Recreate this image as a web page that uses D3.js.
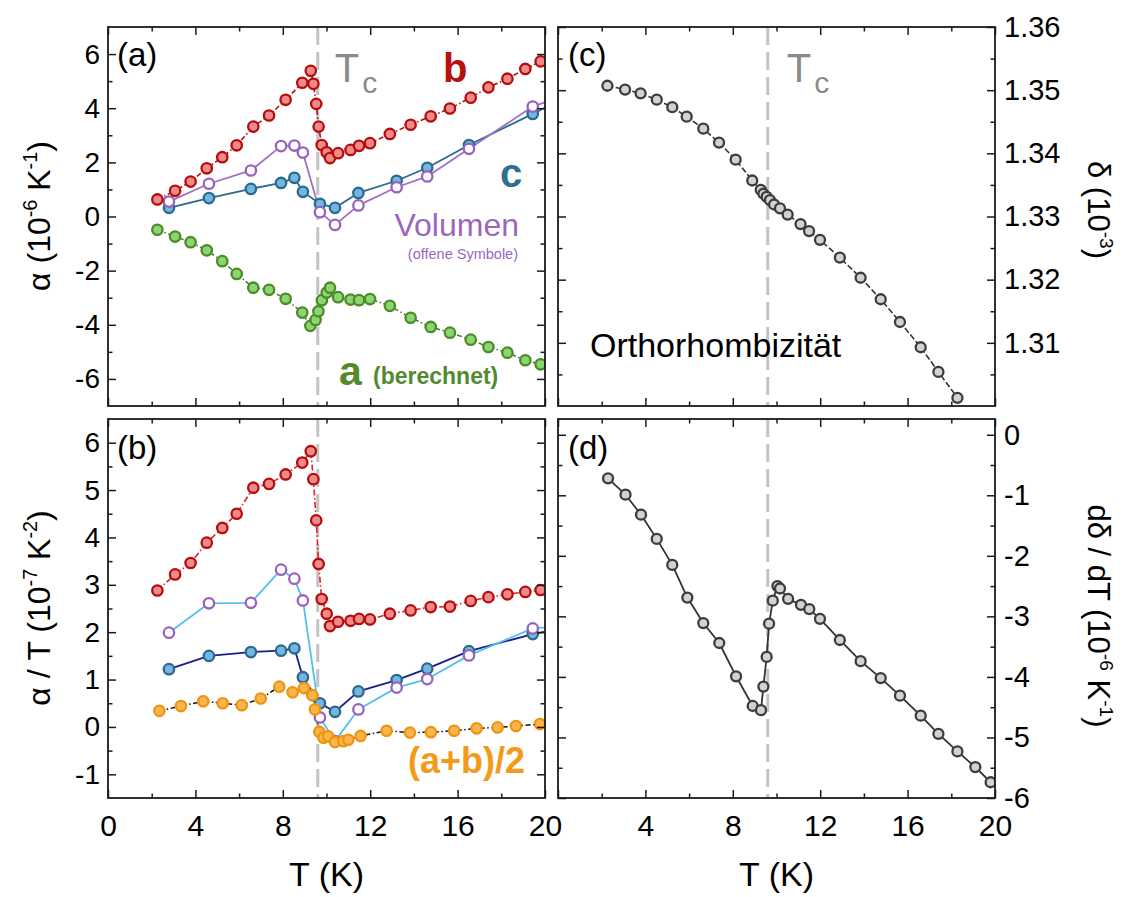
<!DOCTYPE html>
<html><head><meta charset="utf-8">
<script src="https://cdn.jsdelivr.net/npm/d3@7"></script>
<style>
body{margin:0;background:#fff}
svg{display:block}
text{font-family:"Liberation Sans",Arial,Helvetica,sans-serif}
</style>
</head><body>
<svg id="chart" width="1129" height="897"></svg>
<script>
// ---------------- DATA ----------------
const Tc = 9.6;
const xTickVals = [0, 4, 8, 12, 16, 20];
const xMinorVals = [2, 6, 10, 14, 18];

// panel (a): alpha (10^-6 K^-1)
const bT = [2.26,3.07,3.78,4.52,5.23,5.89,6.65,7.37,8.13,8.89,9.28,9.40,9.53,9.64,9.78,10.01,10.16,10.53,11.10,11.49,11.99,12.90,13.85,14.77,15.65,16.60,17.41,18.28,19.10,19.80];
const bAlpha = [0.63,0.95,1.29,1.78,2.19,2.63,3.32,3.73,4.31,4.94,5.38,4.90,4.16,3.32,2.64,2.37,2.16,2.34,2.46,2.61,2.71,3.05,3.39,3.70,3.99,4.39,4.77,5.09,5.45,5.73];
const aT = [2.26,3.07,3.78,4.52,5.23,5.89,6.65,7.37,8.13,8.89,9.26,9.50,9.63,9.79,10.01,10.16,10.53,11.10,11.49,11.99,12.90,13.85,14.77,15.65,16.60,17.41,18.28,19.10,19.80];
const aAlpha = [-0.49,-0.74,-0.95,-1.25,-1.65,-2.12,-2.63,-2.71,-3.04,-3.55,-4.04,-3.82,-3.50,-3.09,-2.81,-2.63,-2.98,-3.07,-3.09,-3.05,-3.30,-3.74,-4.08,-4.29,-4.55,-4.82,-5.03,-5.31,-5.46];
const cT = [2.79,4.62,6.54,7.92,8.53,8.92,9.70,10.39,11.46,13.21,14.61,16.52,19.44,21.2];
const cAlpha = [0.32,0.68,1.02,1.24,1.43,0.91,0.47,0.32,0.87,1.32,1.80,2.64,3.79,4.49];
const volAlpha = [0.55,1.21,1.70,2.60,2.62,2.36,0.16,-0.31,0.41,1.08,1.48,2.50,4.06,4.56];

// panel (b): alpha/T (10^-7 K^-2)
const bAlphaT = [2.88,3.22,3.46,3.89,4.20,4.50,5.05,5.13,5.33,5.58,5.82,5.23,4.36,3.44,2.70,2.39,2.13,2.22,2.24,2.28,2.27,2.39,2.46,2.53,2.54,2.66,2.74,2.80,2.85,2.89];
const cAlphaT = [1.22,1.50,1.58,1.61,1.66,1.05,0.50,0.32,0.75,0.99,1.23,1.60,1.96,2.12];
const volAlphaT = [1.99,2.61,2.62,3.32,3.13,2.67,0.20,-0.30,0.37,0.83,1.01,1.51,2.08,2.15];
const abT = [2.35,3.34,4.36,5.25,6.12,6.99,7.84,8.45,8.97,9.35,9.47,9.67,9.86,10.08,10.39,10.77,11.00,11.56,12.75,13.82,14.78,15.84,16.87,17.83,18.67,19.77];
const abAlphaT = [0.34,0.44,0.54,0.50,0.46,0.60,0.85,0.73,0.82,0.67,0.37,-0.10,-0.23,-0.20,-0.32,-0.30,-0.27,-0.19,-0.08,-0.12,-0.11,-0.08,-0.03,-0.01,0.02,0.06];

// panel (c): orthorhombicity delta (10^-3)
const deltaT = [2.26,3.07,3.78,4.52,5.23,5.89,6.65,7.37,8.13,8.89,9.28,9.40,9.55,9.70,9.89,10.16,10.51,11.10,11.49,11.99,12.90,13.85,14.77,15.65,16.60,17.41,18.28];
const delta = [1.3507,1.3501,1.3495,1.3485,1.3473,1.3458,1.3439,1.3417,1.3390,1.3357,1.3342,1.3336,1.3331,1.3326,1.3319,1.3313,1.3303,1.3288,1.3277,1.3263,1.3235,1.3203,1.3169,1.3133,1.3093,1.3054,1.3013];

// panel (d): d delta / dT (10^-6 K^-1)
const dDeltaT = [2.29,3.09,3.80,4.52,5.23,5.92,6.65,7.38,8.15,8.91,9.29,9.40,9.55,9.66,9.83,10.04,10.16,10.53,11.12,11.50,11.99,12.90,13.85,14.77,15.65,16.60,17.41,18.28,19.10,19.80];
const dDelta = [-0.72,-0.99,-1.32,-1.72,-2.15,-2.69,-3.11,-3.44,-3.99,-4.48,-4.55,-4.16,-3.67,-3.12,-2.74,-2.50,-2.54,-2.71,-2.81,-2.88,-3.04,-3.39,-3.74,-4.02,-4.31,-4.64,-4.94,-5.23,-5.49,-5.74];

// tick values
const aYTicks = [-6,-4,-2,0,2,4,6], aYMinor = [-5,-3,-1,1,3,5];
const bYTicks = [-1,0,1,2,3,4,5,6], bYMinor = [-0.5,0.5,1.5,2.5,3.5,4.5,5.5];
const cYTicks = [1.31,1.32,1.33,1.34,1.35,1.36], cYMinor = [1.305,1.315,1.325,1.335,1.345,1.355];
const dYTicks = [-6,-5,-4,-3,-2,-1,0], dYMinor = [-5.5,-4.5,-3.5,-2.5,-1.5,-0.5];

// ---------------- LAYOUT ----------------
const svg = d3.select('#chart');
const COLS = {L:[108,545], R:[558,995]};
const ROWS = {T:[27,406], B:[419,798]};

function panel(id, col, row, ydom) {
  const x = d3.scaleLinear().domain([0,20]).range(COLS[col]);
  const y = d3.scaleLinear().domain(ydom).range([ROWS[row][1], ROWS[row][0]]);
  const x0 = COLS[col][0], x1 = COLS[col][1], y0 = ROWS[row][0], y1 = ROWS[row][1];
  svg.append('clipPath').attr('id','clip'+id).append('rect')
    .attr('x',x0).attr('y',y0).attr('width',x1-x0).attr('height',y1-y0);
  const g = svg.append('g');
  const plot = g.append('g').attr('clip-path',`url(#clip${id})`);
  // Tc line
  plot.append('line').attr('x1',x(Tc)).attr('x2',x(Tc)).attr('y1',y0).attr('y2',y1)
    .attr('stroke','#c4c4c4').attr('stroke-width',3).attr('stroke-dasharray','18,7');
  return {x,y,g,plot,x0,x1,y0,y1};
}

function styleAxis(sel){
  sel.select('.domain').remove();
  sel.selectAll('.tick line').attr('stroke','#1a1a1a').attr('stroke-width',1.5);
  sel.selectAll('.tick text').attr('fill','#000').style('font-family','"Liberation Sans",Arial,sans-serif');
}

function axes(p, o) {
  const g = p.g;
  const xb = g.append('g').attr('transform',`translate(0,${p.y1})`)
    .call(d3.axisBottom(p.x).tickValues(xTickVals).tickSizeInner(-8).tickSizeOuter(0).tickPadding(17)
      .tickFormat(d => (o.xLabels && o.xLabels.includes(d)) ? String(d) : ''));
  styleAxis(xb); xb.selectAll('.tick text').attr('font-size',30);
  styleAxis(g.append('g').attr('transform',`translate(0,${p.y1})`)
    .call(d3.axisBottom(p.x).tickValues(xMinorVals).tickSizeInner(-4.5).tickSizeOuter(0).tickFormat('')));
  styleAxis(g.append('g').attr('transform',`translate(0,${p.y0})`)
    .call(d3.axisTop(p.x).tickValues(xTickVals).tickSizeInner(-8).tickSizeOuter(0).tickFormat('')));
  styleAxis(g.append('g').attr('transform',`translate(0,${p.y0})`)
    .call(d3.axisTop(p.x).tickValues(xMinorVals).tickSizeInner(-4.5).tickSizeOuter(0).tickFormat('')));
  const labLeft = o.side === 'left', fmt = o.fmt || (d => String(d));
  const yl = g.append('g').attr('transform',`translate(${p.x0},0)`)
    .call(d3.axisLeft(p.y).tickValues(o.yTicks).tickSizeInner(-8).tickSizeOuter(0).tickPadding(8)
      .tickFormat(labLeft ? fmt : ''));
  styleAxis(yl); yl.selectAll('.tick text').attr('font-size',28);
  styleAxis(g.append('g').attr('transform',`translate(${p.x0},0)`)
    .call(d3.axisLeft(p.y).tickValues(o.yMinor).tickSizeInner(-4.5).tickSizeOuter(0).tickFormat('')));
  const yr = g.append('g').attr('transform',`translate(${p.x1},0)`)
    .call(d3.axisRight(p.y).tickValues(o.yTicks).tickSizeInner(-8).tickSizeOuter(0).tickPadding(9)
      .tickFormat(labLeft ? '' : fmt));
  styleAxis(yr); yr.selectAll('.tick text').attr('font-size',29);
  styleAxis(g.append('g').attr('transform',`translate(${p.x1},0)`)
    .call(d3.axisRight(p.y).tickValues(o.yMinor).tickSizeInner(-4.5).tickSizeOuter(0).tickFormat('')));
  g.append('rect').attr('x',p.x0).attr('y',p.y0).attr('width',p.x1-p.x0).attr('height',p.y1-p.y0)
    .attr('fill','none').attr('stroke','#1a1a1a').attr('stroke-width',1.8);
}

function drawLine(p, xs, ys, st) {
  const pts = xs.map((t,i)=>[t, ys[i]]);
  p.plot.append('path').datum(pts)
    .attr('d', d3.line().x(d=>p.x(d[0])).y(d=>p.y(d[1])))
    .attr('fill','none').attr('stroke',st.line).attr('stroke-width',st.lw || 1.6)
    .attr('stroke-dasharray', st.dash || null).attr('stroke-linejoin','round');
}
function drawPts(p, xs, ys, st) {
  const pts = xs.map((t,i)=>[t, ys[i]]);
  p.plot.append('g').selectAll('circle').data(pts).join('circle')
    .attr('cx', d=>p.x(d[0])).attr('cy', d=>p.y(d[1])).attr('r', st.r || 5.2)
    .attr('fill', st.fill).attr('stroke', st.stroke).attr('stroke-width', st.sw || 2.3);
}

function label(x, y, parts, size, opts={}) {
  const t = svg.append('text').attr('font-size', size).attr('fill', opts.fill || '#000')
    .attr('text-anchor', opts.anchor || 'start');
  if (opts.rotate) t.attr('transform', `translate(${x},${y}) rotate(${opts.rotate})`);
  else t.attr('x', x).attr('y', y);
  if (opts.weight) t.attr('font-weight', opts.weight);
  let prevSup = false;
  parts.forEach(pt => {
    const [txt, sup] = Array.isArray(pt) ? pt : [pt, 0];
    const ts = t.append('tspan').text(txt);
    if (sup) { ts.attr('font-size', size*0.62).attr('dy', -size*0.4); prevSup = true; }
    else if (prevSup) { ts.attr('dy', size*0.4); prevSup = false; }
  });
  return t;
}

const RED = {fill:'#f08a8a', stroke:'#b50d0d'};
const BLUE = {fill:'#74b6e2', stroke:'#2a6a8c'};
const GREEN = {fill:'#8ad670', stroke:'#4d8a2a'};
const PURP = {fill:'#ffffff', stroke:'#9a62bc'};
const ORNG = {fill:'#f9b64e', stroke:'#f0940f'};
const GRAY = {fill:'#d2d2d2', stroke:'#3c3c3c', r:5.0};

// ---------------- PANEL (a) ----------------
const pa = panel('a','L','T',[-7,7]);
drawLine(pa, aT, aAlpha, {line:'#3f7a22', dash:'5,2.5,1.5,2.5', lw:1.5});
drawLine(pa, cT, cAlpha, {line:'#2a6a8c', lw:1.8});
drawLine(pa, cT, volAlpha, {line:'#a070c4', lw:1.8});
drawLine(pa, bT, bAlpha, {line:'#b50d0d', dash:'5,2.5,1.5,2.5', lw:1.6});
drawPts(pa, aT, aAlpha, GREEN);
drawPts(pa, cT, cAlpha, BLUE);
drawPts(pa, cT, volAlpha, PURP);
drawPts(pa, bT, bAlpha, RED);
axes(pa, {side:'left', yTicks:aYTicks, yMinor:aYMinor});

// ---------------- PANEL (b) ----------------
const pb = panel('b','L','B',[-1.5,6.5]);
drawLine(pb, bT, bAlphaT, {line:'#e52222', dash:'6,2.5,1.5,2.5', lw:1.6});
drawLine(pb, cT, cAlphaT, {line:'#1c1c8e', lw:1.8});
drawLine(pb, cT, volAlphaT, {line:'#55bff2', lw:1.8});
drawLine(pb, abT, abAlphaT, {line:'#111', dash:'5,2.5,1.5,2.5', lw:1.5});
drawPts(pb, bT, bAlphaT, RED);
drawPts(pb, cT, cAlphaT, BLUE);
drawPts(pb, cT, volAlphaT, PURP);
drawPts(pb, abT, abAlphaT, ORNG);
axes(pb, {side:'left', yTicks:bYTicks, yMinor:bYMinor, xLabels:[0,4,8,12,16,20]});

// ---------------- PANEL (c) ----------------
const pc = panel('c','R','T',[1.30,1.36]);
drawLine(pc, deltaT, delta, {line:'#333', dash:'6,2.5', lw:1.6});
drawPts(pc, deltaT, delta, GRAY);
axes(pc, {side:'right', yTicks:cYTicks, yMinor:cYMinor, fmt:d3.format('.2f')});

// ---------------- PANEL (d) ----------------
const pd = panel('d','R','B',[-6,0.26]);
drawLine(pd, dDeltaT, dDelta, {line:'#333', lw:1.8});
drawPts(pd, dDeltaT, dDelta, GRAY);
axes(pd, {side:'right', yTicks:dYTicks, yMinor:dYMinor, xLabels:[4,8,12,16,20]});

// ---------------- TEXT ----------------
label(117, 66, ['(a)'], 33);
label(117, 459, ['(b)'], 33);
label(568, 66, ['(c)'], 33);
label(568, 459, ['(d)'], 33);

function tcLabel(x) {
  const t = svg.append('text').attr('x', x).attr('y', 82).attr('fill','#8a8a8a').attr('font-size',40);
  t.append('tspan').text('T');
  t.append('tspan').text('c').attr('font-size',30).attr('dx',3).attr('dy',11);
}
tcLabel(pa.x(Tc) + 17);
tcLabel(pc.x(Tc) + 19);

label(443, 82, ['b'], 40, {fill:'#b80f0f', weight:'bold'});
label(500, 187, ['c'], 40, {fill:'#2e6e8e', weight:'bold'});
label(519, 236, ['Volumen'], 32, {fill:'#9b66c0', anchor:'end'});
label(518, 259, ['(offene Symbole)'], 14.5, {fill:'#9b66c0', anchor:'end'});
label(339, 385, ['a'], 41, {fill:'#548a2e', weight:'bold'});
label(373, 384, ['(berechnet)'], 23, {fill:'#548a2e', weight:'bold'});
label(408, 773, ['(a+b)/2'], 36, {fill:'#f39a1a', weight:'bold'});
label(590, 357, ['Orthorhombizität'], 34);

// axis titles
label(326.5, 886, ['T (K)'], 34, {anchor:'middle'});
label(776.5, 886, ['T (K)'], 34, {anchor:'middle'});
label(50, 216, ['α (10', ['-6',1], ' K', ['-1',1], ')'], 32, {anchor:'middle', rotate:-90});
label(50, 608, ['α / T (10', ['-7',1], ' K', ['-2',1], ')'], 32, {anchor:'middle', rotate:-90});
label(1088, 210, ['δ (10', ['-3',1], ')'], 31, {anchor:'middle', rotate:90});
label(1088, 616, ['dδ / dT (10', ['-6',1], ' K', ['-1',1], ')'], 31, {anchor:'middle', rotate:90});
</script>
</body></html>
